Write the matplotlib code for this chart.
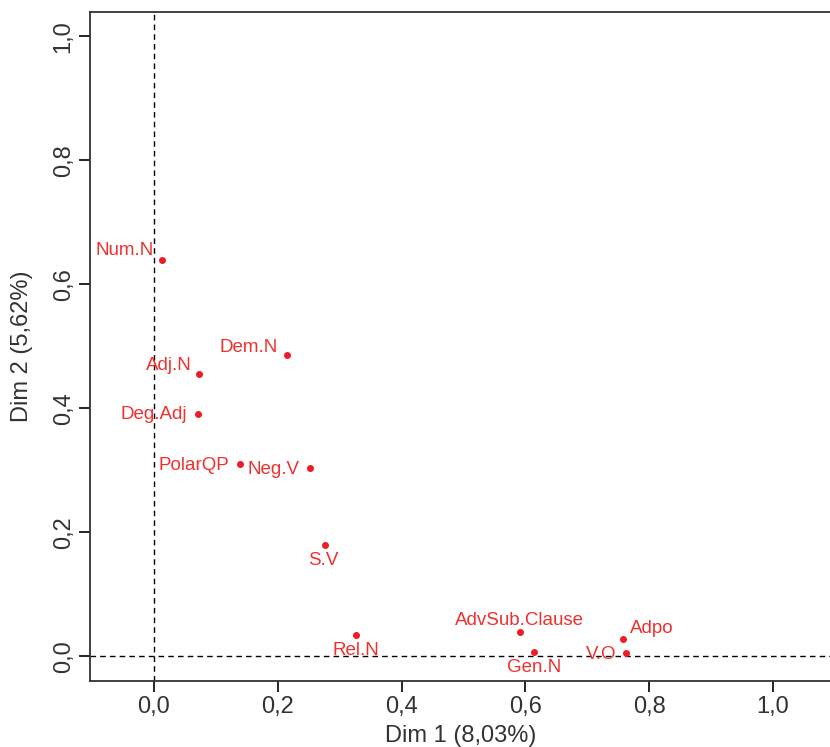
import matplotlib
matplotlib.use('Agg')
import matplotlib.pyplot as plt

plt.rcParams['font.family'] = ['Liberation Sans', 'DejaVu Sans']

# Variable coordinates on the first two dimensions
names = ['Num.N', 'Dem.N', 'Adj.N', 'Deg.Adj', 'PolarQP', 'Neg.V', 'S.V',
         'Rel.N', 'AdvSub.Clause', 'Gen.N', 'Adpo', 'V.O']
dim1 = [0.013, 0.215, 0.073, 0.071, 0.139, 0.252, 0.276,
        0.326, 0.591, 0.614, 0.758, 0.763]
dim2 = [0.639, 0.485, 0.455, 0.390, 0.310, 0.303, 0.179,
        0.034, 0.039, 0.006, 0.027, 0.005]
ticks = [0.0, 0.2, 0.4, 0.6, 0.8, 1.0]
tick_labels = ['0,0', '0,2', '0,4', '0,6', '0,8', '1,0']

# label offsets in points (dx, dy)
offsets = {
    'Num.N': (-27, 7),
    'Dem.N': (-28, 6),
    'Adj.N': (-22, 6),
    'Deg.Adj': (-32, 0),
    'PolarQP': (-33, -1),
    'Neg.V': (-26, -1),
    'S.V': (-1, -11),
    'Rel.N': (0, -11),
    'AdvSub.Clause': (0, 8),
    'Gen.N': (0, -11),
    'Adpo': (21, 8),
    'V.O': (-18, -1),
}

fig = plt.figure(figsize=(8.30, 7.47), dpi=100)
ax = fig.add_axes([90 / 830, 66 / 747, 741 / 830, 669 / 747])

ax.axhline(0, color='black', linestyle=(0, (4, 3)), linewidth=1)
ax.axvline(0, color='black', linestyle=(0, (4, 3)), linewidth=1)

ax.scatter(dim1, dim2, s=16, color='#ee1c25', zorder=3)
for n, x, y in zip(names, dim1, dim2):
    dx, dy = offsets[n]
    ax.annotate(n, (x, y), xytext=(dx, dy), textcoords='offset points',
                ha='center', va='center', color='#f0302f', fontsize=13.5)

ax.set_xlim(-0.1034, 1.094)
ax.set_ylim(-0.040, 1.039)
ax.set_xticks(ticks)
ax.set_xticklabels(tick_labels)
ax.set_yticks(ticks)
ax.set_yticklabels(tick_labels, rotation=90, va='center')
ax.tick_params(direction='out', length=8, width=1.2, labelsize=17,
               labelcolor='#333333', pad=3)
for s in ['left', 'bottom', 'top']:
    ax.spines[s].set_linewidth(1.3)
    ax.spines[s].set_color('#333333')
ax.spines['right'].set_visible(False)

ax.set_xlabel('Dim 1 (8,03%)', fontsize=17, color='#333333', labelpad=5)
ax.set_ylabel('Dim 2 (5,62%)', fontsize=17, color='#333333', labelpad=14)

plt.savefig('out.png', dpi=100)
